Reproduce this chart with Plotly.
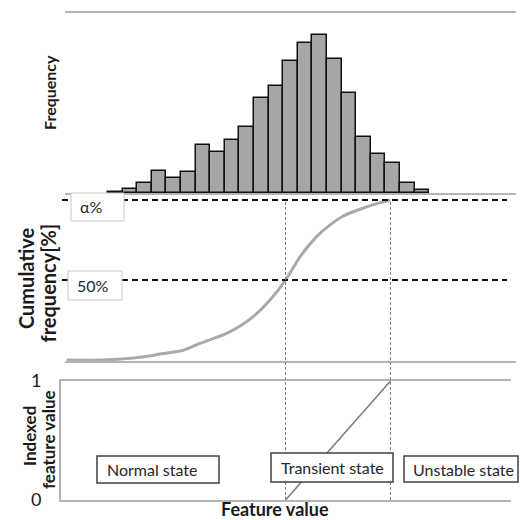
import plotly.graph_objects as go

# ---------------- data ----------------
bin_centers = [3.5, 4.5, 5.5, 6.5, 7.5, 8.5, 9.5, 10.5, 11.5, 12.5, 13.5,
               14.5, 15.5, 16.5, 17.5, 18.5, 19.5, 20.5, 21.5, 22.5, 23.5, 24.5]
frequency = [0.3, 1.4, 3.2, 7.2, 5.0, 7.0, 15.9, 13.7, 17.6, 22.1, 31.8,
             35.8, 43.9, 49.9, 52.8, 44.8, 33.4, 18.7, 12.9, 10.1, 3.4, 0.9]

cum_x = [0.17, 2.68, 5.19, 6.56, 8.16, 9.30, 11.13, 12.16, 12.95, 14.10,
         15.17, 16.16, 17.29, 18.21, 19.12, 20.26, 21.63, 22.35]
cum_y = [0.0, 0.0, 1.7, 3.75, 6.1, 10.4, 16.7, 21.9, 27.1, 37.5,
         50.0, 64.6, 77.1, 84.4, 90.0, 94.2, 98.3, 100.0]

median_x = 15.16     # feature value at 50 %
alpha_x = 22.35      # feature value at alpha %
level_labels = ["α%", "50%"]
level_values = [100, 50]

indexed_x = [median_x, alpha_x]
indexed_y = [0, 1]
index_ticks = [0, 1]

state_labels = ["Normal state", "Transient state", "Unstable state"]

# ---------------- helpers (pixel -> paper) ----------------
W = H = 520.0
def X(px):
    return px / W
def Y(py):
    return 1 - py / H

FONT = "Lato"
AXC = "#b4b4b4"

fig = go.Figure()

fig.add_trace(go.Bar(
    x=bin_centers, y=frequency, width=1.0,
    marker=dict(color="#a6a6a6", line=dict(color="#111111", width=1.5)),
    xaxis="x", yaxis="y", showlegend=False, hoverinfo="skip",
))

fig.add_trace(go.Scatter(
    x=cum_x, y=cum_y, mode="lines",
    line=dict(color="#a9a9a9", width=3, shape="spline", smoothing=0.6),
    xaxis="x2", yaxis="y2", showlegend=False, hoverinfo="skip",
))

fig.add_trace(go.Scatter(
    x=indexed_x, y=indexed_y, mode="lines",
    line=dict(color="#7a7a7a", width=1.5),
    xaxis="x3", yaxis="y3", showlegend=False, hoverinfo="skip",
))

common_x = dict(showline=True, mirror=True, linecolor=AXC, linewidth=2,
                showticklabels=False, ticks="", showgrid=False, zeroline=False,
                layer="below traces", automargin=False)
common_y = dict(showline=False, showticklabels=False, ticks="", showgrid=False,
                zeroline=False, automargin=False)

fig.update_layout(
    template="none",
    width=520, height=520,
    margin=dict(l=0, r=0, t=0, b=0, pad=0, autoexpand=False),
    paper_bgcolor="white", plot_bgcolor="white",
    bargap=0, showlegend=False,
    font=dict(family=FONT, color="#1a1a1a"),
    xaxis=dict(domain=[X(65), X(516)], range=[0.055, 30.95], anchor="y", **common_x),
    yaxis=dict(domain=[Y(193), Y(13)], range=[0, 60], anchor="x", **common_y),
    xaxis2=dict(domain=[X(65), X(516)], range=[0.055, 30.95], anchor="y2", **common_x),
    yaxis2=dict(domain=[Y(361), Y(195)], range=[-0.6, 103.1], anchor="x2", **common_y),
    xaxis3=dict(domain=[X(61), X(511)], range=[-0.219, 30.60], anchor="y3", **common_x),
    yaxis3=dict(domain=[Y(500), Y(381)], range=[0, 1], anchor="x3",
                showline=True, linecolor=AXC, linewidth=2, showgrid=False,
                zeroline=False, ticks="", tickvals=index_ticks,
                ticktext=[str(v) for v in index_ticks], automargin=False,
                tickfont=dict(family=FONT, size=18, color="#1a1a1a"),
                ticklabelstandoff=14),
)

shapes = []
# dashed level lines
for lv in level_values:
    shapes.append(dict(type="line", xref="paper", yref="y2",
                       x0=X(62), x1=X(507), y0=lv, y1=lv,
                       line=dict(color="#111111", width=2, dash="6px,4px")))
# vertical dotted threshold lines
for xv in [median_x, alpha_x]:
    shapes.append(dict(type="line", xref="x2", yref="paper",
                       x0=xv, x1=xv, y0=Y(202), y1=Y(500),
                       line=dict(color="#7f7f7f", width=1, dash="3px,2px")))
# level label boxes
level_boxes = [(71, 193, 124, 221), (68, 271, 122, 300)]
for (x0, y0, x1, y1) in level_boxes:
    shapes.append(dict(type="rect", xref="paper", yref="paper",
                       x0=X(x0), x1=X(x1), y0=Y(y1), y1=Y(y0),
                       fillcolor="white", line=dict(color="#c6c6c6", width=1)))
# state boxes
state_boxes = [(97, 456, 219, 483), (271, 453, 393, 482), (404, 456, 518, 482)]
for (x0, y0, x1, y1) in state_boxes:
    shapes.append(dict(type="rect", xref="paper", yref="paper",
                       x0=X(x0), x1=X(x1), y0=Y(y1), y1=Y(y0),
                       fillcolor="white", line=dict(color="#404040", width=1.5)))
fig.update_layout(shapes=shapes)

ann = []
# level texts
for (lab, (x0, y0, x1, y1)) in zip(level_labels, level_boxes):
    ann.append(dict(text=lab, xref="paper", yref="paper", x=X(x0 + 7), y=Y((y0 + y1) / 2),
                    xanchor="left", yanchor="middle", showarrow=False,
                    font=dict(family=FONT, size=16, color="#262626")))
# state texts
state_text_x = [105, 279, 411]
for lab, tx, (x0, y0, x1, y1) in zip(state_labels, state_text_x, state_boxes):
    ann.append(dict(text=lab, xref="paper", yref="paper", x=X(tx), y=Y((y0 + y1) / 2),
                    xanchor="left", yanchor="middle", showarrow=False,
                    font=dict(family=FONT, size=16, color="#262626")))
# axis titles
titles = [
    ("<b>Frequency</b>", 49, 93, 16),
    ("<b>Cumulative</b>", 25.5, 278.5, 20),
    ("<b>frequency[%]</b>", 47, 283.5, 20),
    ("<b>Indexed</b>", 29, 436, 17),
    ("<b>feature value</b>", 48, 440, 17),
]
for t, cx, cy, fs in titles:
    ann.append(dict(text=t, xref="paper", yref="paper", x=X(cx), y=Y(cy),
                    xanchor="center", yanchor="middle", textangle=-90, showarrow=False,
                    font=dict(family=FONT, size=fs, color="#1a1a1a")))
ann.append(dict(text="<b>Feature value</b>", xref="paper", yref="paper", x=X(275), y=Y(509),
                xanchor="center", yanchor="middle", showarrow=False,
                font=dict(family=FONT, size=18, color="#1a1a1a")))
fig.update_layout(annotations=ann)

fig.write_html("out.html", config={"displayModeBar": False},
               post_script="document.body.style.margin='0px';")
